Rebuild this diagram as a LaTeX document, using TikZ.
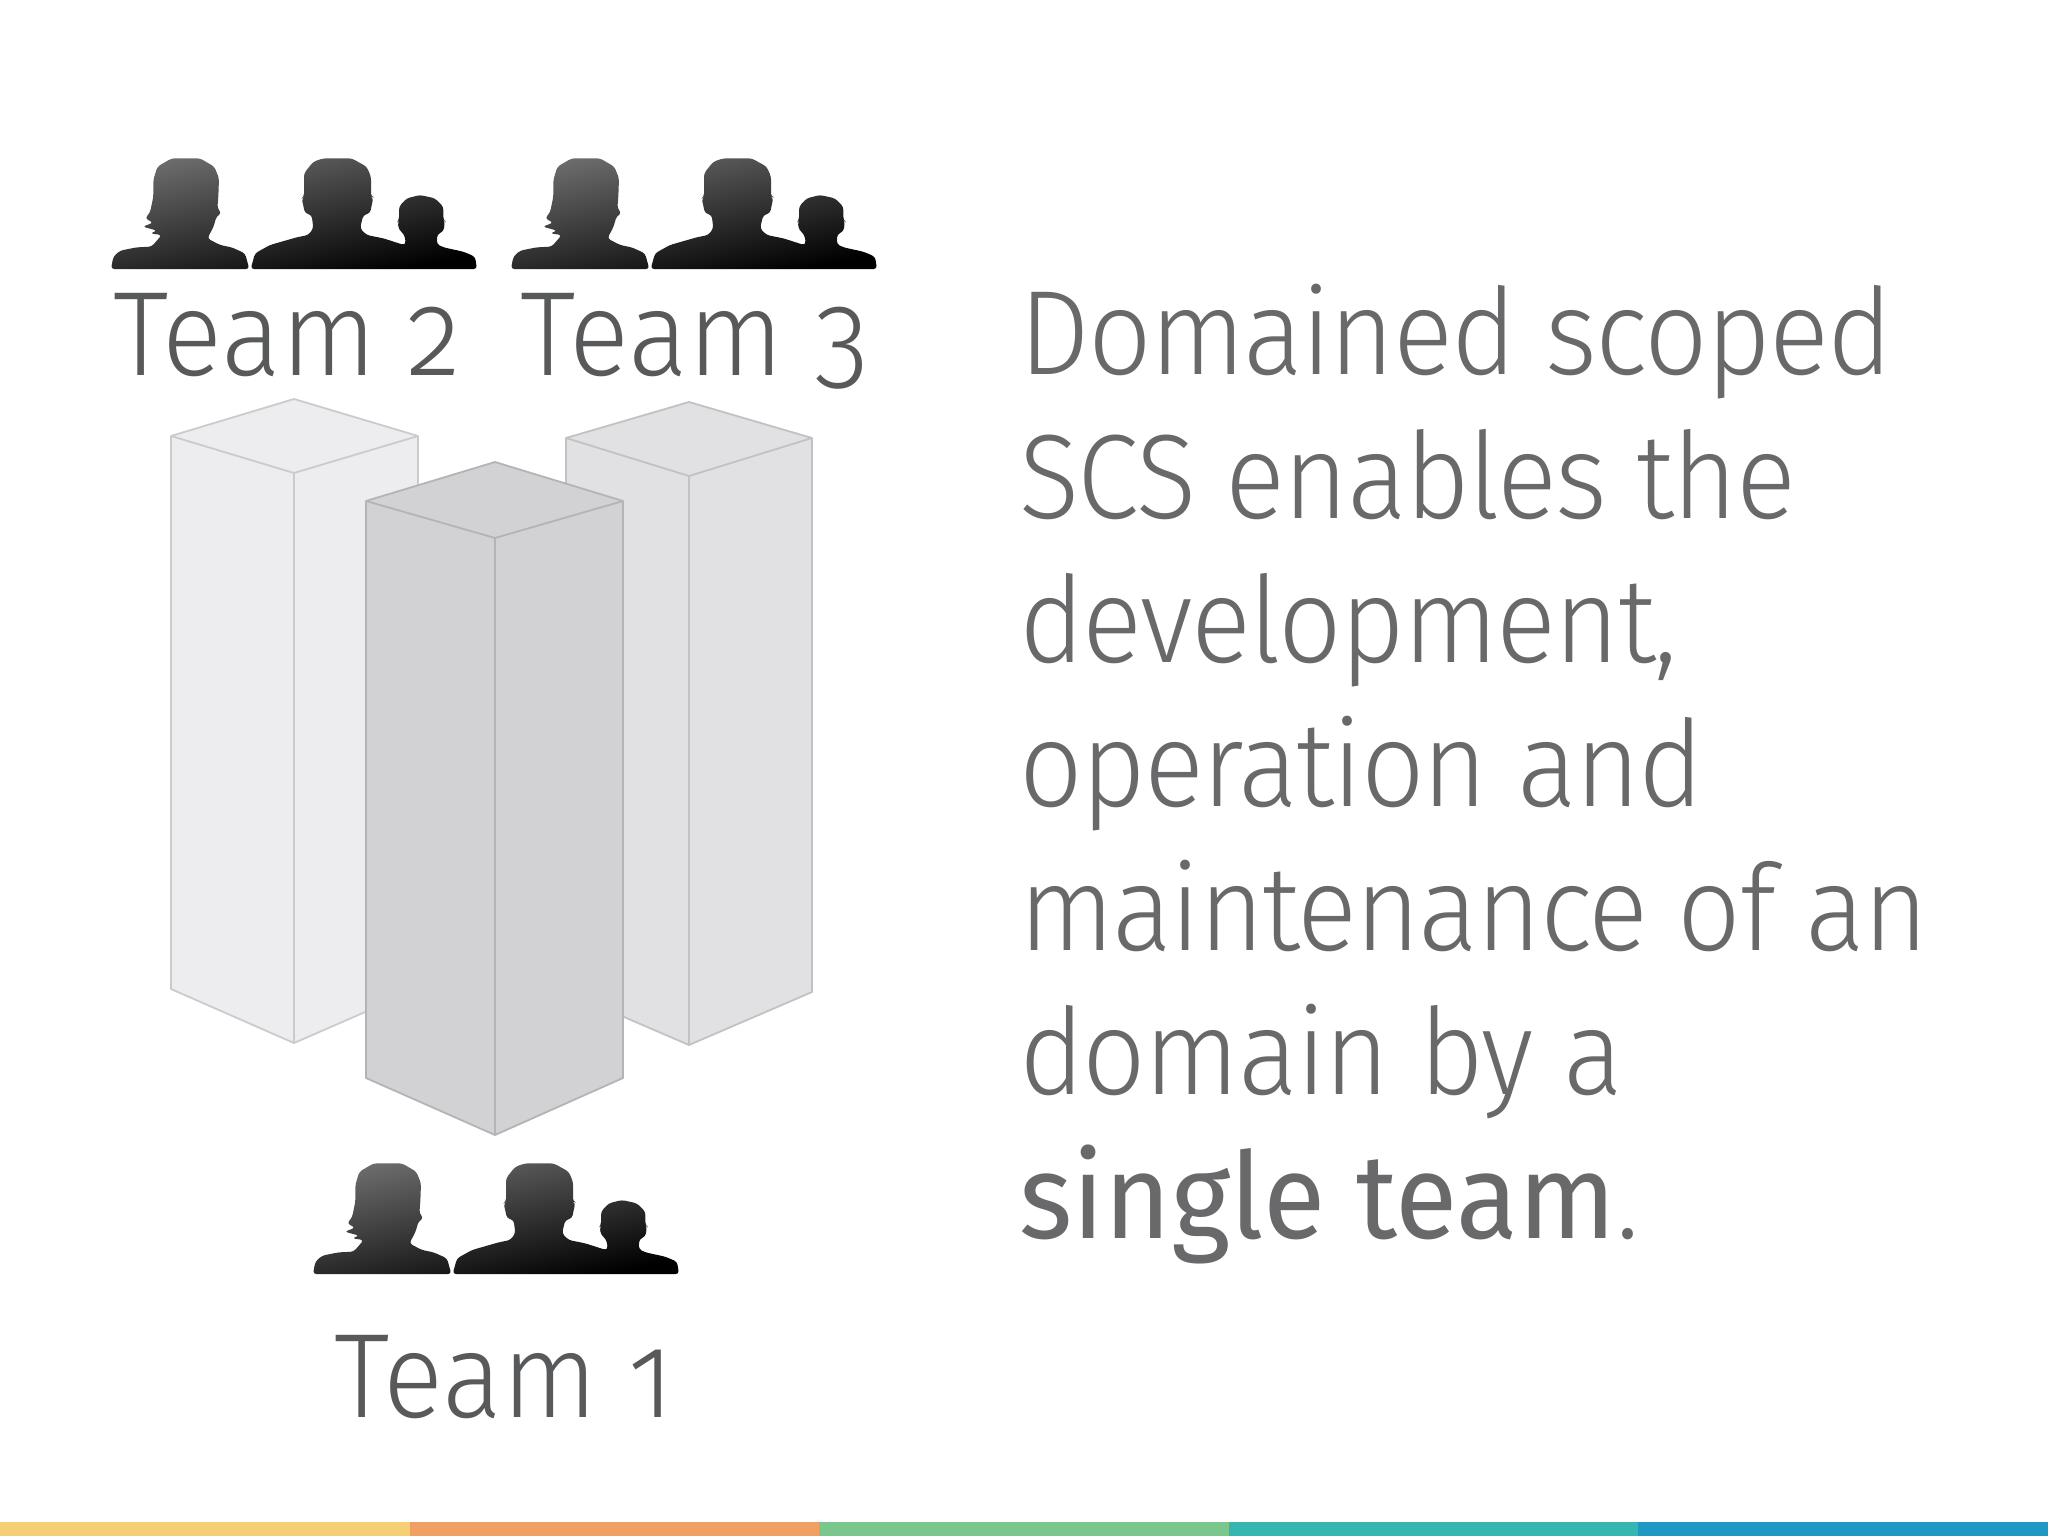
\documentclass[tikz,border=0pt]{standalone}
\usepackage{fontspec}
\setmainfont{Fira Sans Light}[Numbers=OldStyle, FakeStretch=0.93]
\newfontfamily\bodyfont{Fira Sans Light}[Numbers=OldStyle, FakeStretch=0.93, LetterSpace=-1.5]
\newfontfamily\regularfont{Fira Sans}[FakeStretch=0.95]
\definecolor{labelgray}{HTML}{58595B}
\definecolor{bodygray}{HTML}{69696B}
\definecolor{pillarA}{HTML}{EDEDEF}
\definecolor{pillarB}{HTML}{E1E1E3}
\definecolor{pillarC}{HTML}{D2D2D4}
\definecolor{edgeA}{HTML}{CBCBCD}
\definecolor{edgeB}{HTML}{C2C2C4}
\definecolor{edgeC}{HTML}{B4B4B6}
\definecolor{barA}{HTML}{F5CF73}
\definecolor{barB}{HTML}{F0A062}
\definecolor{barC}{HTML}{7AC78E}
\definecolor{barD}{HTML}{36B6B0}
\definecolor{barE}{HTML}{2098C4}
\tikzset{
  team label/.style={
    anchor=base west,
    inner sep=0pt,
    text=labelgray,
    font=\fontsize{60}{72}\selectfont,
  },
  body text/.style={
    anchor=north west,
    inner sep=0pt,
    align=left,
    text=bodygray,
    font=\fontsize{60}{72}\selectfont\bodyfont,
  },
  pillar edge/.style={
    line width=0.9pt,
    line join=round,
  },
  icon fill/.style={
    top color=black!58,
    bottom color=black,
    shading angle=12,
    rounded corners=1.6pt,
    x=0.16667pt,
    y=-0.16667pt,
  },
  pics/team icons/.style={
    code={
      \shade[icon fill]
        (33,387) -- (40,350) -- (60,332) -- (110,322) -- (155,320) -- (185,285) -- (150,280)
        -- (172,272) -- (128,260) -- (160,248) -- (135,235) -- (150,218) -- (160,170)
        -- (160,120) -- (172,80) -- (215,55) -- (300,55) -- (343,80) -- (357,115)
        -- (355,170) -- (352,205) -- (365,220) -- (350,228) -- (340,262) -- (322,295)
        -- (360,315) -- (395,322) -- (435,340) -- (448,387) -- cycle
        (452,387) -- (465,340) -- (510,315) -- (590,292) -- (625,285) -- (640,265)
        -- (635,225) -- (615,220) -- (605,175) -- (612,170) -- (612,100) -- (640,65)
        -- (670,55) -- (755,55) -- (800,80) -- (813,110) -- (813,170) -- (820,172)
        -- (810,220) -- (790,225) -- (780,265) -- (800,285) -- (850,295) -- (912,315)
        -- (918,310) -- (912,282) -- (897,270) -- (893,245) -- (897,240) -- (897,200)
        -- (920,175) -- (960,165) -- (1005,175) -- (1030,200) -- (1030,240) -- (1035,245)
        -- (1030,275) -- (1012,282) -- (1010,312) -- (1030,322) -- (1090,335) -- (1125,350)
        -- (1131,387) -- cycle;
    },
  },
}

\begin{document}
\begin{tikzpicture}[x=0.5pt, y=-0.5pt]
      \useasboundingbox (0,0) rectangle (2048,1536);
      \fill[white] (0,0) rectangle (2048,1536);

      % pillars, back ones first
      \foreach \lx/\cx/\rx/\topy/\sidey/\fronty/\lowy/\lowfront/\col/\edge in {
        171/294/418/399/436/473/989/1043/pillarA/edgeA,
        566/689/812/402/438/476/992/1045/pillarB/edgeB,
        366/495/623/462/501/538/1078/1135/pillarC/edgeC}
      {
        \draw[pillar edge, draw=\edge, fill=\col] (\lx,\sidey) -- (\cx,\topy) -- (\rx,\sidey) -- (\rx,\lowy)
          -- (\cx,\lowfront) -- (\lx,\lowy) -- cycle;
        \draw[pillar edge, draw=\edge] (\lx,\sidey) -- (\cx,\fronty) -- (\rx,\sidey);
        \draw[pillar edge, draw=\edge] (\cx,\fronty) -- (\cx,\lowfront);
      }

      \pic (icons2) at (100,140) {team icons};
      \pic (icons3) at (500,140) {team icons};
      \pic (icons1) at (302,1145) {team icons};

      \node[team label] (team2) at (113,375) {Team 2};
      \node[team label] (team3) at (520,375) {Team 3};
      \node[team label] (team1) at (334,1417) {Team 1};

      \node[body text] (body) at (1019,284) {Domained scoped\\SCS enables the\\development,\\operation and\\maintenance of an\\domain by a\\{\regularfont single team}.};

      % colour bar
      \fill[barA] (0,1522) rectangle (410,1536);
      \fill[barB] (410,1522) rectangle (819,1536);
      \fill[barC] (819,1522) rectangle (1229,1536);
      \fill[barD] (1229,1522) rectangle (1638,1536);
      \fill[barE] (1638,1522) rectangle (2048,1536);
    \end{tikzpicture}
\end{document}
